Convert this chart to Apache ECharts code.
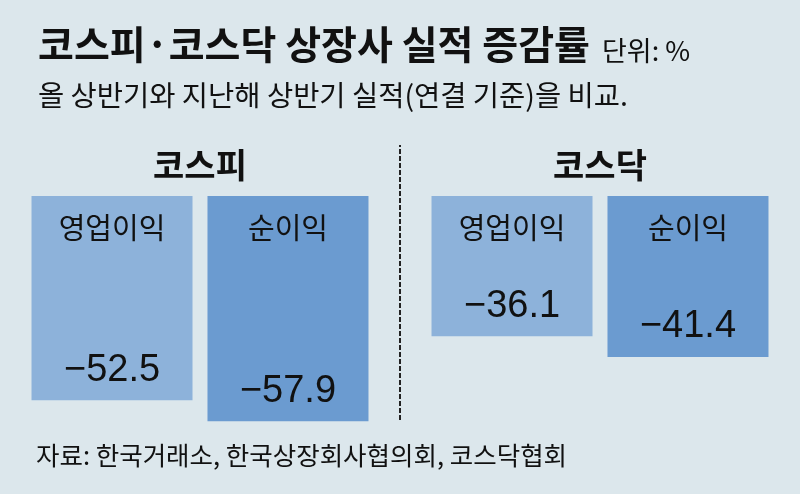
<!DOCTYPE html>
<html>
<head>
<meta charset="utf-8">
<script src="https://cdn.jsdelivr.net/npm/echarts@6/dist/echarts.min.js"></script>
<style>
  html, body { margin: 0; padding: 0; background: #dce7ec; }
  #chart { width: 800px; height: 494px; }
</style>
</head>
<body>
<div id="chart"></div>
<script>
const categories = ['코스피', '코스닥'];
const seriesNames = ['영업이익', '순이익'];
const opProfit = [-52.5, -36.1];
const netProfit = [-57.9, -41.4];
const dividerAt = [1];
const titleText = '코스피·코스닥 상장사 실적 증감률';
const unitText = '단위: %';
const subtitleText = '올 상반기와 지난해 상반기 실적(연결 기준)을 비교.';
const sourceText = '자료: 한국거래소, 한국상장회사협의회, 코스닥협회';

const KR = "'Noto Sans CJK KR', 'Noto Sans', sans-serif";
const NUM = "'Liberation Sans', Arial, sans-serif";
const colors = ['#8db2da', '#6b9bd0'];

const chart = echarts.init(document.getElementById('chart'), null, { renderer: 'canvas' });

function valueSeries(name, data, color) {
  return {
    name: name, type: 'bar', xAxisIndex: 0, yAxisIndex: 0,
    data: data, barWidth: 161, barGap: '9.3%', clip: false,
    itemStyle: { color: color },
    label: {
      show: true, position: 'insideBottom', distance: 11,
      fontFamily: NUM, fontSize: 38, color: '#111',
      formatter: p => p.value.toFixed(1).replace('-', '\u2212')
    },
    silent: true
  };
}
function nameSeries(name, data) {
  return {
    name: name, type: 'bar', xAxisIndex: 1, yAxisIndex: 0,
    data: data, barWidth: 161, barGap: '9.3%', clip: false,
    itemStyle: { color: 'rgba(0,0,0,0)' },
    label: {
      show: true, position: 'insideTop', distance: 18,
      fontFamily: KR, fontSize: 29, color: '#111',
      formatter: '{a}'
    },
    silent: true
  };
}

chart.setOption({
  backgroundColor: '#dce7ec',
  animation: false,
  title: [
    {
      left: 33, top: 20,
      text: '{a|' + titleText + '}{b|' + unitText + '}',
      textStyle: {
        rich: {
          a: { fontFamily: KR, fontSize: 39, fontWeight: 'bold', color: '#111' },
          b: { fontFamily: KR, fontSize: 27, fontWeight: 'normal', color: '#111', padding: [12, 0, 0, 12] }
        }
      }
    },
    {
      left: 33, top: 76, text: subtitleText,
      textStyle: { fontFamily: KR, fontSize: 28.5, fontWeight: 'normal', color: '#111' }
    },
    {
      left: 31, top: 438, text: sourceText,
      textStyle: { fontFamily: KR, fontSize: 25.5, fontWeight: 'normal', color: '#111' }
    }
  ],
  grid: { left: 0, right: 0, top: 145, bottom: 74 },
  xAxis: [
    {
      type: 'category', data: categories, position: 'top', offset: -51,
      axisLine: { show: false, onZero: false },
      axisTick: { show: false },
      axisLabel: { fontFamily: KR, fontSize: 34, fontWeight: 'bold', color: '#111', margin: 14 },
      splitLine: { show: false }
    },
    { type: 'category', data: categories, show: false },
    { type: 'value', min: 0, max: 2, show: false, splitLine: { show: false } }
  ],
  yAxis: { type: 'value', min: -57.6, max: 13.1, show: false, splitLine: { show: false } },
  series: [
    valueSeries(seriesNames[0], opProfit, colors[0]),
    valueSeries(seriesNames[1], netProfit, colors[1]),
    nameSeries(seriesNames[0], opProfit),
    nameSeries(seriesNames[1], netProfit),
    {
      type: 'line', xAxisIndex: 2, yAxisIndex: 0, data: [], silent: true,
      markLine: {
        silent: true, animation: false,
        symbol: ['none', 'none'],
        label: { show: false },
        lineStyle: { color: '#222', width: 2, type: [5, 2] },
        data: dividerAt.map(v => ({ xAxis: v }))
      }
    }
  ]
});
</script>
</body>
</html>
